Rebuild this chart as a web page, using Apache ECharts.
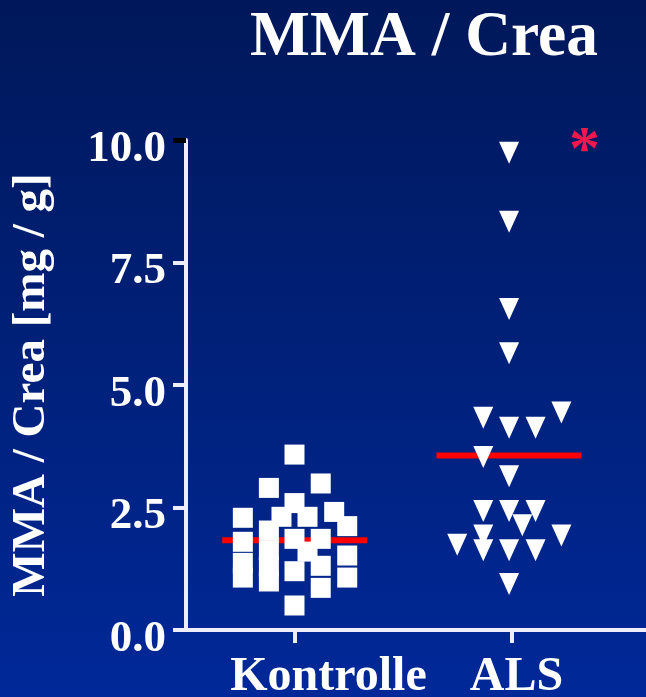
<!DOCTYPE html>
<html>
<head>
<meta charset="utf-8">
<script src="https://cdn.jsdelivr.net/npm/echarts@6/dist/echarts.min.js"></script>
<style>
html,body{margin:0;padding:0;}
#c{width:646px;height:697px;}
</style>
</head>
<body>
<div id="c"></div>
<script>
// ---- data ----
const titleText = 'MMA / Crea';
const yAxisName = 'MMA / Crea [mg / g]';
const categories = ['Kontrolle', 'ALS'];
const yTicks = [0, 2.5, 5, 7.5, 10];

// Kontrolle (squares): x = category position + jitter, y = value
const ctrlX = [0.762, 0.762, 0.762, 0.762,
               0.882, 0.882, 0.882, 0.882, 0.882,
               1.0, 1.0, 1.0, 1.0, 1.0,
               0.940,
               1.060, 1.060,
               1.121, 1.121, 1.121, 1.121,
               1.183,
               1.243, 1.243, 1.243];
const ctrlY = [2.29, 1.80, 1.37, 1.07,
               2.90, 2.03, 1.63, 1.29, 0.99,
               3.58, 2.59, 1.86, 1.20, 0.50,
               2.31,
               2.31, 1.60,
               2.99, 1.86, 1.31, 0.86,
               2.41,
               2.12, 1.52, 1.07];

// ALS (down triangles)
const alsX = [1.989, 1.989, 1.989, 1.989,
              1.870, 1.989, 2.111, 2.230,
              1.870, 1.989,
              1.870, 1.989, 2.111, 2.050,
              1.870, 2.230, 1.750,
              1.870, 1.989, 2.111,
              1.989];
const alsY = [9.74, 8.33, 6.55, 5.65,
              4.33, 4.13, 4.13, 4.44,
              3.53, 3.14,
              2.43, 2.43, 2.43, 2.14,
              1.93, 1.93, 1.74,
              1.63, 1.63, 1.63,
              0.94];

// group means (red lines) and their horizontal extent
const meanValues = [1.83, 3.56];
const meanLeft = [0.667, 1.654];
const meanRight = [1.335, 2.323];

// ---- chart ----
const chart = echarts.init(document.getElementById('c'));
const serif = 'Liberation Serif, Times New Roman, serif';

const pairs = (xs, ys) => xs.map((x, i) => [x, ys[i]]);
const catLabelStyle = {color: '#ffffff', fontFamily: serif, fontWeight: 'bold', fontSize: 48};

chart.setOption({
  backgroundColor: {
    type: 'linear', x: 0, y: 0, x2: 0, y2: 1,
    colorStops: [{offset: 0, color: '#00185a'}, {offset: 1, color: '#002898'}]
  },
  animation: false,
  title: {
    text: titleText,
    left: 419, top: 2, textAlign: 'center',
    textStyle: {color: '#ffffff', fontFamily: serif, fontWeight: 'bold', fontSize: 63.5}
  },
  graphic: [{
    type: 'text', left: 569, top: 121,
    style: {text: '*', fill: '#f0184c', font: 'bold 62px ' + serif}
  }],
  grid: {left: 186, right: 0, top: 140, bottom: 67, containLabel: false, outerBoundsMode: 'none'},
  xAxis: {
    type: 'value', min: 0.5, max: 2.62,
    splitLine: {show: false},
    axisLine: {show: true, onZero: false, lineStyle: {color: '#eeeefa', width: 4}},
    axisTick: {show: true, customValues: [1, 2], length: 13, lineStyle: {color: '#eeeefa', width: 4}},
    axisLabel: {
      customValues: [1, 2], margin: 24,
      formatter: v => (Math.round(v) === 1 ? '{a|' : '{b|') + categories[Math.round(v) - 1] + '}',
      rich: {
        a: Object.assign({padding: [0, 0, 0, 68]}, catLabelStyle),
        b: Object.assign({padding: [0, 0, 0, 10]}, catLabelStyle)
      }
    }
  },
  yAxis: [{
    type: 'value', min: 0, max: 10, interval: 2.5,
    name: yAxisName, nameLocation: 'middle', nameGap: 131, nameRotate: 90,
    nameTextStyle: {color: '#ffffff', fontFamily: serif, fontWeight: 'bold', fontSize: 47},
    splitLine: {show: false},
    axisLine: {show: true, lineStyle: {color: '#eeeefa', width: 4}},
    axisTick: {show: true, length: 13, lineStyle: {color: '#eeeefa', width: 4}},
    axisLabel: {
      margin: 20, formatter: v => '{v|' + v.toFixed(1) + '}',
      rich: {
        v: {padding: [18, 0, 0, 0], color: '#ffffff', fontFamily: serif, fontWeight: 'bold', fontSize: 45}
      }
    }
  }, {
    type: 'value', min: 0, max: 10, position: 'left',
    splitLine: {show: false},
    axisLine: {show: false},
    axisLabel: {show: false},
    axisTick: {show: true, customValues: [10], length: 13, lineStyle: {color: '#000000', width: 5}}
  }],
  series: [
    {
      type: 'line', z: 1, symbol: 'none', silent: true,
      data: [[meanLeft[0], meanValues[0]], [meanRight[0], meanValues[0]]],
      lineStyle: {color: '#ff0000', width: 6}
    },
    {
      type: 'line', z: 1, symbol: 'none', silent: true,
      data: [[meanLeft[1], meanValues[1]], [meanRight[1], meanValues[1]]],
      lineStyle: {color: '#ff0000', width: 6}
    },
    {
      name: categories[0], type: 'scatter', z: 3,
      symbol: 'rect', symbolSize: 20,
      itemStyle: {color: '#ffffff', borderWidth: 0, opacity: 1},
      data: pairs(ctrlX, ctrlY)
    },
    {
      name: categories[1], type: 'scatter', z: 3,
      symbol: 'triangle', symbolRotate: 180, symbolSize: [20, 22],
      itemStyle: {color: '#ffffff', borderWidth: 0, opacity: 1},
      data: pairs(alsX, alsY)
    }
  ]
});
</script>
</body>
</html>
